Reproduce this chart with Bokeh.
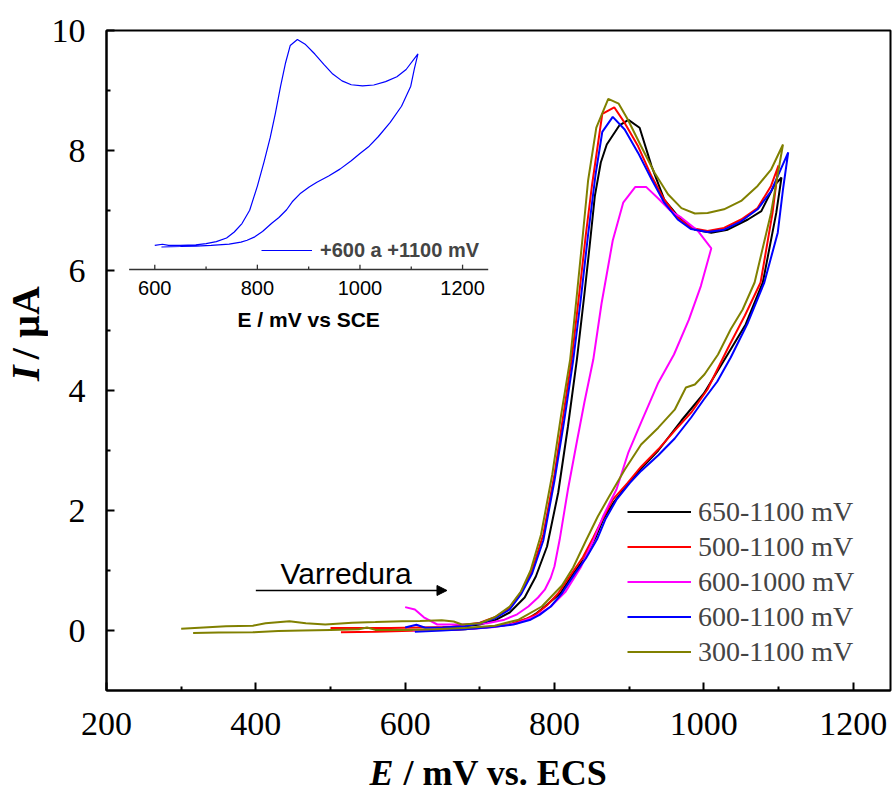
import math
from bokeh.plotting import figure
from bokeh.layouts import row, column
from bokeh.models import (Range1d, Legend, LegendItem, Label, Arrow, NormalHead, FixedTicker)
from bokeh.embed import file_html
from bokeh.resources import INLINE
from bokeh.core.properties import value

# ---------------- data (E in mV vs ECS, I in uA) ----------------
black_E = [650, 680, 700, 720, 740, 760, 775, 790, 805, 818, 830, 840, 847, 854, 862, 870, 887, 899, 914, 930,
           947, 965, 988, 1010, 1032, 1059, 1077, 1094, 1104,
           1097, 1079, 1056, 1028, 1000, 970, 939, 916, 899, 880, 865, 855, 840, 826, 808, 787, 775, 765, 740,
           705, 680, 660]
black_I = [0.05, 0.07, 0.10, 0.17, 0.30, 0.55, 0.90, 1.40, 2.30, 3.40, 4.52, 5.60, 6.40, 7.24, 7.80, 8.10, 8.42, 8.51,
           8.38, 7.74, 7.18, 6.91, 6.68, 6.63, 6.68, 6.85, 6.99, 7.41, 7.55,
           6.96, 5.80, 5.10, 4.52, 3.95, 3.50, 3.00, 2.70, 2.45, 2.15, 1.85, 1.55, 1.20, 0.96, 0.62, 0.40, 0.28,
           0.20, 0.10, 0.05, 0.02, 0.01]

red_E = [500, 540, 580, 620, 660, 700, 720, 740, 755, 770, 785, 800, 812, 823, 833, 842, 850, 864, 880, 894, 912,
         930, 947, 965, 983, 1005, 1027, 1050, 1072, 1090, 1100,
         1092, 1076, 1055, 1032, 1005, 983, 961, 939, 916, 898, 878, 864, 852, 838, 823, 805, 790, 775, 763, 740,
         705, 670, 620, 560, 514]
red_I = [0.04, 0.04, 0.04, 0.05, 0.06, 0.13, 0.22, 0.38, 0.63, 1.00, 1.60, 2.60, 3.60, 4.52, 5.60, 6.60, 7.40, 8.61,
         8.72, 8.46, 8.07, 7.57, 7.18, 6.88, 6.71, 6.66, 6.71, 6.85, 7.04, 7.41, 7.75,
         6.96, 5.80, 5.25, 4.70, 4.02, 3.63, 3.33, 3.02, 2.73, 2.46, 2.18, 1.85, 1.55, 1.22, 0.95, 0.62, 0.42,
         0.27, 0.20, 0.10, 0.05, 0.02, 0.00, -0.02, -0.03]

magenta_E = [600, 613, 625, 643, 680, 710, 733, 750, 765, 778, 787, 795, 800, 807, 818, 830, 840, 852, 863, 878,
             892, 908, 923, 939, 955, 970, 992, 1010,
             996, 980, 960, 939, 916, 899, 883, 876, 865, 852, 835, 815, 795, 775, 750, 720, 690, 650, 610]
magenta_I = [0.39, 0.35, 0.22, 0.10, 0.10, 0.12, 0.18, 0.27, 0.40, 0.55, 0.68, 0.88, 1.07, 1.52, 2.35, 3.15, 3.80,
             4.52, 5.45, 6.50, 7.13, 7.39, 7.39, 7.20, 7.00, 6.88, 6.66, 6.37,
             5.74, 5.18, 4.60, 4.13, 3.47, 2.97, 2.35, 2.18, 1.90, 1.50, 1.05, 0.65, 0.40, 0.24, 0.12, 0.06, 0.03,
             0.01, 0.00]

blue_E = [600, 615, 627, 650, 680, 700, 720, 740, 755, 770, 785, 800, 813, 825, 835, 845, 855, 864, 878, 894, 912,
          930, 947, 965, 983, 1005, 1027, 1050, 1072, 1090, 1113,
          1106, 1099, 1081, 1059, 1036, 1018, 1000, 983, 961, 939, 916, 901, 883, 868, 857, 842, 828, 810, 795, 780,
          768, 745, 710, 680, 650, 613]
blue_I = [0.05, 0.095, 0.045, 0.05, 0.07, 0.12, 0.20, 0.35, 0.60, 0.95, 1.50, 2.50, 3.50, 4.50, 5.50, 6.60, 7.60,
          8.31, 8.56, 8.35, 7.96, 7.52, 7.13, 6.85, 6.69, 6.64, 6.68, 6.82, 7.02, 7.32, 7.97,
          7.35, 6.63, 5.80, 5.13, 4.55, 4.15, 3.85, 3.55, 3.20, 2.92, 2.66, 2.46, 2.18, 1.85, 1.52, 1.20, 0.96,
          0.62, 0.40, 0.26, 0.18, 0.10, 0.05, 0.02, 0.00, -0.02]

olive_E = [300, 330, 360, 396, 413, 445, 467, 493, 529, 560, 596, 620, 649, 665, 676, 700, 720, 740, 755, 768, 782,
           797, 809, 821, 830, 838, 845, 856, 872, 886, 898, 916, 934, 952, 970, 988, 1005, 1027, 1050, 1072, 1090,
           1106,
           1090, 1068, 1052, 1036, 1019, 1001, 988, 976, 961, 939, 916, 894, 872, 858, 843, 825, 810, 783, 752, 720,
           680, 640, 600, 560, 549, 538, 500, 462, 430, 396, 350, 316]
olive_I = [0.03, 0.05, 0.07, 0.08, 0.12, 0.155, 0.12, 0.10, 0.13, 0.14, 0.155, 0.16, 0.17, 0.15, 0.10, 0.12, 0.22,
           0.40, 0.65, 1.00, 1.60, 2.60, 3.60, 4.52, 5.60, 6.60, 7.50, 8.38, 8.86, 8.78, 8.52, 8.07, 7.63, 7.27,
           7.04, 6.95, 6.96, 7.02, 7.16, 7.41, 7.68, 8.10,
           6.96, 5.80, 5.35, 5.02, 4.60, 4.27, 4.10, 4.05, 3.68, 3.38, 3.10, 2.68, 2.21, 1.90, 1.52, 1.05, 0.75,
           0.40, 0.18, 0.08, 0.04, 0.02, 0.01, 0.01, 0.05, 0.02, 0.01, 0.00, -0.01, -0.03, -0.035, -0.04]

series_labels = ["650-1100 mV", "500-1100 mV", "600-1000 mV", "600-1100 mV", "300-1100 mV"]
series_colors = ["#000000", "#ff0000", "#ff00ff", "#0000ff", "#808000"]

x_ticks = [200, 400, 600, 800, 1000, 1200]
x_minor = [300, 500, 700, 900, 1100]
y_ticks = [0, 2, 4, 6, 8, 10]
y_minor = [1, 3, 5, 7, 9]

inset_label = "+600 a +1100 mV"
inset_ticks = [600, 800, 1000, 1200]
inset_minor = [700, 900, 1100]

# ---------------- main figure ----------------
p = figure(width=845, height=753, x_range=Range1d(200, 1250), y_range=Range1d(-1, 10),
           output_backend="svg", toolbar_location=None,
           min_border_left=56, min_border_right=3, min_border_top=30, min_border_bottom=63)
p.xgrid.visible = False
p.ygrid.visible = False
p.outline_line_color = "black"
p.outline_line_width = 2
p.outline_line_alpha = 1

p.xaxis.ticker = FixedTicker(ticks=x_ticks, minor_ticks=x_minor)
p.yaxis.ticker = FixedTicker(ticks=y_ticks, minor_ticks=y_minor)
for ax in (p.xaxis[0], p.yaxis[0]):
    ax.axis_line_width = 2
    ax.major_tick_line_width = 2
    ax.minor_tick_line_width = 2
    ax.major_tick_in = 8
    ax.major_tick_out = 0
    ax.minor_tick_in = 4
    ax.minor_tick_out = 0
    ax.major_label_text_font = "Liberation Serif"
    ax.major_label_text_font_size = "34px"
    ax.major_label_text_color = "black"
p.xaxis.major_label_standoff = 22
p.yaxis.major_label_standoff = 21

all_E = [black_E, red_E, magenta_E, blue_E, olive_E]
all_I = [black_I, red_I, magenta_I, blue_I, olive_I]
renderers = []
for E, I, c in zip(all_E, all_I, series_colors):
    renderers.append(p.line(E, I, line_color=c, line_width=2))

legend = Legend(items=[LegendItem(label=l, renderers=[r]) for l, r in zip(series_labels, renderers)],
                location=(521, 22), padding=0, margin=0, spacing=2,
                glyph_width=64, glyph_height=33, label_height=33, label_standoff=7,
                label_text_font="Liberation Serif", label_text_font_size="28px",
                border_line_alpha=0, background_fill_alpha=0)
p.add_layout(legend)

p.add_layout(Arrow(end=NormalHead(size=10, fill_color="black", line_color="black"),
                   x_start=400, y_start=0.667, x_end=656, y_end=0.667,
                   line_color="black", line_width=1.5))
p.add_layout(Label(x=433, y=0.95, text="Varredura", text_font="Liberation Sans",
                   text_font_size="30px", text_color="black", text_baseline="middle"))

# ---------------- inset (own scales, drawn in the main frame) ----------------
p.extra_x_ranges = {"ix": Range1d(505.9, 2034.2)}
p.extra_y_ranges = {"iy": Range1d(-18.36, 8.933)}
axis_y = -0.951
inset_r = p.line(blue_E, blue_I, x_range_name="ix", y_range_name="iy", line_color="#0000ff", line_width=1.2)
p.segment(x0=[550], y0=[axis_y], x1=[1250], y1=[axis_y], x_range_name="ix", y_range_name="iy",
          line_color="#333333", line_width=1.3)
p.segment(x0=inset_ticks, y0=[axis_y] * len(inset_ticks), x1=inset_ticks,
          y1=[axis_y + 0.2] * len(inset_ticks), x_range_name="ix", y_range_name="iy",
          line_color="#333333", line_width=1.3)
p.segment(x0=inset_minor, y0=[axis_y] * len(inset_minor), x1=inset_minor,
          y1=[axis_y + 0.12] * len(inset_minor), x_range_name="ix", y_range_name="iy",
          line_color="#333333", line_width=1.3)
p.text(x=inset_ticks, y=[axis_y] * len(inset_ticks), text=[str(t) for t in inset_ticks],
       x_range_name="ix", y_range_name="iy", y_offset=18, text_align="center",
       text_baseline="middle", text_font=value("Liberation Sans"), text_font_size="20px",
       text_color="black")
p.text(x=[900], y=[axis_y], text=["E / mV vs SCE"], x_range_name="ix", y_range_name="iy",
       y_offset=50, text_align="center", text_baseline="middle", text_font=value("Liberation Sans"),
       text_font_size="21px", text_font_style="bold", text_color="black")
inset_legend = Legend(items=[LegendItem(label=inset_label, renderers=[inset_r])],
                      location=(155, 428), padding=0, margin=0, glyph_width=51, glyph_height=24,
                      label_height=24, label_standoff=8, label_text_font="Liberation Sans",
                      label_text_font_size="20px", label_text_font_style="bold",
                      border_line_alpha=0, background_fill_alpha=0)
p.add_layout(inset_legend)

# ---------------- axis titles (mixed italic / bold) ----------------
left = figure(width=48, height=753, x_range=Range1d(0, 48), y_range=Range1d(0, 753),
              output_backend="svg", toolbar_location=None, x_axis_location=None, y_axis_location=None,
              min_border=0)
left.grid.visible = False
left.outline_line_color = None
left.text(x=[25], y=[353], text=["I"], angle=math.pi / 2,
          text_align="left", text_baseline="middle", text_font=value("Liberation Serif"),
          text_font_size="40px", text_font_style="bold italic", text_color="black")
left.text(x=[25], y=[378], text=["/ µA"], angle=math.pi / 2,
          text_align="left", text_baseline="middle", text_font=value("Liberation Serif"),
          text_font_size="40px", text_font_style="bold", text_color="black")

bottom = figure(width=893, height=40, x_range=Range1d(0, 893), y_range=Range1d(0, 40),
                output_backend="svg", toolbar_location=None, x_axis_location=None, y_axis_location=None,
                min_border=0)
bottom.grid.visible = False
bottom.outline_line_color = None
bottom.text(x=[369], y=[21], text=["E"], text_align="left", text_baseline="middle",
            text_font=value("Liberation Serif"), text_font_size="36px", text_font_style="bold italic",
            text_color="black")
bottom.text(x=[403], y=[21], text=["/ mV vs. ECS"], text_align="left", text_baseline="middle",
            text_font=value("Liberation Serif"), text_font_size="36px", text_font_style="bold",
            text_color="black")

layout = column(row(left, p), bottom)
open("out.html", "w").write(file_html(layout, INLINE))
